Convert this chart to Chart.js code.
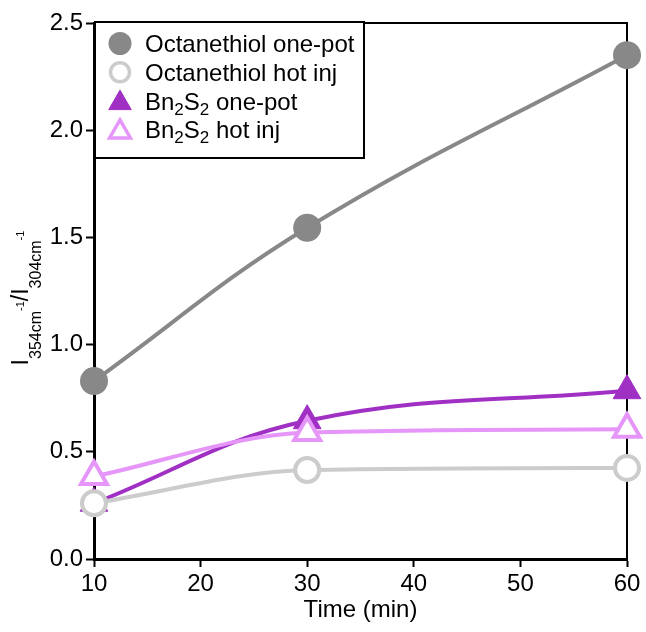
<!DOCTYPE html>
<html><head><meta charset="utf-8">
<script src="https://cdn.jsdelivr.net/npm/chart.js@4/dist/chart.umd.min.js"></script>
<style>html,body{margin:0;padding:0;background:#fff;}#wrap{width:646px;height:632px;position:relative;}</style>
</head><body><div id="wrap"><canvas id="c" width="646" height="632"></canvas></div>
<script>
// ---- data ----
const times = [10, 30, 60];
const octOnePot = [0.83, 1.545, 2.35];
const octHotInj = [0.26, 0.415, 0.425];
const bnOnePot = [0.26, 0.645, 0.785];
const bnHotInj = [0.385, 0.59, 0.605];
const seriesNames = ['Octanethiol one-pot', 'Octanethiol hot inj', 'Bn{2}S{2} one-pot', 'Bn{2}S{2} hot inj'];
const xTicks = [10, 20, 30, 40, 50, 60];
const yTicks = [0.0, 0.5, 1.0, 1.5, 2.0, 2.5];
const xTitle = 'Time (min)';
const yTitleParts = [['I', 0], ['354cm', 1], ['-1', 2], ['/I', 0], ['304cm', 1], ['-1', 2]];

const FONT = '"Liberation Sans", Arial, sans-serif';
const C_GRAY = '#888888', C_LGRAY = '#cccccc', C_PURP = '#a030c4', C_LVIO = '#e596f8';

function pts(ys) { return times.map((t, i) => ({x: t, y: ys[i]})); }

const styles = [
  {color: C_GRAY, fill: C_GRAY, style: 'circle', r: 14, bw: 0, lr: 11.5, lbw: 0, mono: false},
  {color: C_LGRAY, fill: '#ffffff', style: 'circle', r: 12, bw: 4, lr: 9.5, lbw: 3.5, mono: true},
  {color: C_PURP, fill: C_PURP, style: 'triangle', r: 16, bw: 1, lr: 13, lbw: 1, mono: false},
  {color: C_LVIO, fill: '#ffffff', style: 'triangle', r: 15, bw: 4, lr: 12, lbw: 3.5, mono: true}
];
const seriesData = [octOnePot, octHotInj, bnOnePot, bnHotInj];
const orders = [3, 1, 2, 0];

const datasets = seriesData.map((d, i) => ({
  label: seriesNames[i].replace(/[{}]/g, ''),
  data: pts(d),
  borderColor: styles[i].color,
  backgroundColor: styles[i].fill,
  borderWidth: 4,
  cubicInterpolationMode: styles[i].mono ? 'monotone' : 'default',
  tension: 0.4,
  pointStyle: styles[i].style,
  pointRadius: styles[i].r,
  pointHoverRadius: styles[i].r,
  pointBorderWidth: styles[i].bw,
  pointBorderColor: styles[i].color,
  pointBackgroundColor: styles[i].fill,
  order: orders[i],
  clip: false
}));

function drawMarker(ctx, style, x, y, r) {
  ctx.beginPath();
  if (style === 'circle') {
    ctx.arc(x, y, r, 0, Math.PI * 2);
  } else {
    let rad = 0;
    const T = Math.PI * 2 / 3;
    ctx.moveTo(x + Math.sin(rad) * r, y - Math.cos(rad) * r);
    rad += T; ctx.lineTo(x + Math.sin(rad) * r, y - Math.cos(rad) * r);
    rad += T; ctx.lineTo(x + Math.sin(rad) * r, y - Math.cos(rad) * r);
    ctx.closePath();
  }
}

function parseRich(s) {
  const out = []; const re = /\{([^}]*)\}|([^{]+)/g; let m;
  while ((m = re.exec(s))) { if (m[1] !== undefined) out.push([m[1], 1]); else out.push([m[2], 0]); }
  return out;
}

const deco = {
  id: 'deco',
  beforeDatasetsDraw(chart) {
    const ctx = chart.ctx, a = chart.chartArea;
    ctx.save();
    ctx.strokeStyle = '#000'; ctx.lineWidth = 2;
    ctx.beginPath();
    ctx.moveTo(a.left, a.top); ctx.lineTo(a.right, a.top); ctx.lineTo(a.right, a.bottom + 1);
    ctx.stroke();
    ctx.restore();
  },
  afterDraw(chart) {
    const ctx = chart.ctx, a = chart.chartArea;
    ctx.save();
    // legend box
    const bx = 95, by = 22, bw = 269, bh = 136;
    ctx.fillStyle = '#fff';
    ctx.fillRect(bx, by, bw, bh);
    ctx.strokeStyle = '#000'; ctx.lineWidth = 2;
    ctx.strokeRect(bx, by, bw, bh);
    for (let i = 0; i < seriesNames.length; i++) {
      const base = 52 + i * 28.8;
      const my = base - 8.5;
      const s = styles[i];
      drawMarker(ctx, s.style, 120, my + (s.style === 'triangle' ? 2 : 0), s.lr);
      ctx.fillStyle = s.fill; ctx.fill();
      if (s.lbw > 0) { ctx.strokeStyle = s.color; ctx.lineWidth = s.lbw; ctx.stroke(); }
      let x = 145;
      ctx.fillStyle = '#000'; ctx.textBaseline = 'alphabetic'; ctx.textAlign = 'left';
      for (const [t, k] of parseRich(seriesNames[i])) {
        ctx.font = (k ? 17 : 24) + 'px ' + FONT;
        ctx.fillText(t, x, base + (k ? 5 : 0));
        x += ctx.measureText(t).width;
      }
    }
    // y title
    const cy = 298;
    const sizes = [23, 16, 11];
    const offs = [0, 13, -4];
    let total = 0;
    for (const [t, k] of yTitleParts) { ctx.font = sizes[k] + 'px ' + FONT; total += ctx.measureText(t).width; }
    ctx.translate(28, cy);
    ctx.rotate(-Math.PI / 2);
    ctx.fillStyle = '#000'; ctx.textBaseline = 'alphabetic'; ctx.textAlign = 'left';
    let x = -total / 2;
    for (const [t, k] of yTitleParts) {
      ctx.font = sizes[k] + 'px ' + FONT;
      ctx.fillText(t, x, offs[k]);
      x += ctx.measureText(t).width;
    }
    ctx.restore();
  }
};

new Chart(document.getElementById('c'), {
  type: 'line',
  data: {datasets},
  plugins: [deco],
  options: {
    responsive: false,
    animation: false,
    events: [],
    layout: {padding: {top: 23, right: 15, left: 0, bottom: 0}},
    plugins: {legend: {display: false}, tooltip: {enabled: false}},
    scales: {
      x: {
        type: 'linear', min: 10, max: 60,
        afterBuildTicks: s => { s.ticks = xTicks.map(v => ({value: v})); },
        afterFit: s => { s.height = 73; },
        grid: {drawOnChartArea: false, drawTicks: true, tickLength: 8, tickWidth: 2, tickColor: '#000'},
        border: {display: true, color: '#000', width: 3},
        ticks: {color: '#000', font: {family: FONT, size: 24}, padding: 3, maxRotation: 0, autoSkip: false},
        title: {display: true, text: xTitle, color: '#000', font: {family: FONT, size: 24}, padding: {top: 0, bottom: 7}}
      },
      y: {
        type: 'linear', min: 0, max: 2.5,
        afterBuildTicks: s => { s.ticks = yTicks.map(v => ({value: v})); },
        afterFit: s => { s.width = 94; },
        grid: {drawOnChartArea: false, drawTicks: true, tickLength: 8, tickWidth: 2, tickColor: '#000'},
        border: {display: true, color: '#000', width: 3},
        ticks: {color: '#000', font: {family: FONT, size: 24}, padding: 3, autoSkip: false,
          callback: v => Number(v).toFixed(1)}
      }
    }
  }
});
</script></body></html>
